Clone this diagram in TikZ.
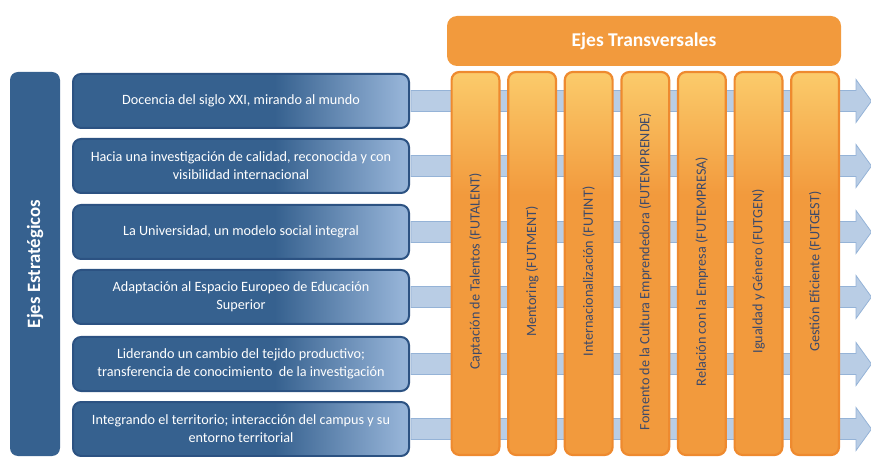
\documentclass[tikz,border=0pt]{standalone}
\usepackage{fontspec}
\setmainfont{Carlito}
\usetikzlibrary{calc}

\definecolor{azul}{HTML}{36618F}
\definecolor{azulborde}{HTML}{2C5282}
\definecolor{azulclaro}{HTML}{95B3D7}
\definecolor{flechafondo}{HTML}{B9CDE5}
\definecolor{flechaborde}{HTML}{95B3D7}
\definecolor{naranja}{HTML}{F29A3D}
\definecolor{naranjaborde}{HTML}{EE8A2F}
\definecolor{amarillo}{HTML}{FBCB6B}
\definecolor{textocol}{HTML}{3D4A6A}

\pgfdeclarehorizontalshading{filaazul}{100bp}{color(0bp)=(azul); color(25bp)=(azul); color(55bp)=(azul); color(74bp)=(azulclaro); color(100bp)=(azulclaro)}
\pgfdeclareverticalshading{colnaranja}{100bp}{color(0bp)=(naranja); color(25bp)=(naranja); color(59bp)=(naranja); color(75bp)=(amarillo); color(100bp)=(amarillo)}

\tikzset{
  fila/.style={draw=azulborde, line width=2pt, rounded corners=8pt, shading=filaazul,
    minimum width=336pt, minimum height=54pt, inner sep=0pt, align=center,
    text=white, font=\fontsize{14.2}{18}\selectfont},
  eje/.style={fill=azul, rounded corners=8pt, rotate=90, minimum width=384pt,
    minimum height=50pt, text=white, font=\fontsize{18.8}{20}\selectfont\bfseries},
  cabecera/.style={fill=naranja, rounded corners=10pt, minimum width=394pt,
    minimum height=50pt, text=white, font=\fontsize{19.5}{22}\selectfont\bfseries},
  columna/.style={draw=naranjaborde, line width=2.2pt, rounded corners=8pt,
    shading=colnaranja, minimum width=47.8pt, minimum height=383pt, inner sep=0pt},
  etiqueta/.style={rotate=90, text=textocol, font=\fontsize{14.2}{16}\selectfont, inner sep=0pt},
  flecha/.style={fill=flechafondo, draw=flechaborde, line width=0.8pt}
}

\begin{document}
\begin{tikzpicture}[x=1pt,y=-1pt]
\useasboundingbox (0,0) rectangle (871,457);

% ejes estrategicos
\node[eje] (estrat) at (35,264) {Ejes Estratégicos};

\node[fila] (r1) at (241,101) {Docencia del siglo XXI, mirando al mundo};
\node[fila] (r2) at (241,166) {Hacia una investigación de calidad, reconocida y con\\visibilidad internacional};
\node[fila] (r3) at (241,232) {La Universidad, un modelo social integral};
\node[fila] (r4) at (241,297) {Adaptación al Espacio Europeo de Educación\\Superior};
\node[fila] (r5) at (241,364) {Liderando un cambio del tejido productivo;\\transferencia de conocimiento\ \ de la investigación};
\node[fila] (r6) at (241,429) {Integrando el territorio; interacción del campus y su\\entorno territorial};

% flechas
\coordinate (fin) at (871.5,0);
\foreach \i in {1,...,6}{
  \coordinate (e\i) at (r\i.east -| fin);
  \filldraw[flecha] ([xshift=1pt,yshift=10.5pt]r\i.east) -- ([xshift=-15.5pt,yshift=10.5pt]e\i)
    -- ([xshift=-15.5pt,yshift=21.5pt]e\i) -- (e\i) -- ([xshift=-15.5pt,yshift=-21.5pt]e\i)
    -- ([xshift=-15.5pt,yshift=-10.5pt]e\i) -- ([xshift=1pt,yshift=-10.5pt]r\i.east) -- cycle;
}

% ejes transversales
\node[cabecera] (transv) at (644,41) {Ejes Transversales};

\foreach \i/\txt in {1/{Captación de Talentos (FUTALENT)},
                     2/{Mentoring (FUTMENT)},
                     3/{Internacionalización (FUTINT)},
                     4/{Fomento de la Cultura Emprendedora (FUTEMPRENDE)},
                     5/{Relación con la Empresa (FUTEMPRESA)},
                     6/{Igualdad y Género (FUTGEN)},
                     7/{Gestión Eficiente (FUTGEST)}}{
  \node[columna] (t\i) at ({475.5+56.6*(\i-1)},263.5) {};
  \node[etiqueta] (l\i) at ([yshift=-8pt]t\i.center) {\txt};
}
\end{tikzpicture}
\end{document}
